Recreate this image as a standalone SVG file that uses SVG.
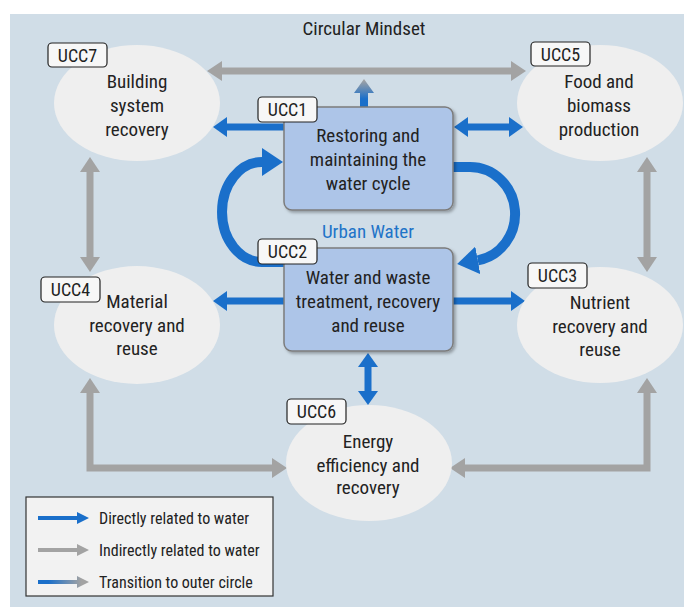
<svg xmlns="http://www.w3.org/2000/svg" width="684" height="607" viewBox="0 0 684 607">
<defs>
<style>
text{font-family:"Liberation Sans Narrow","Roboto Condensed","DejaVu Sans Condensed","Liberation Sans",sans-serif;fill:#222;text-anchor:middle}
.t{font-size:19px}
.lbl{font-size:18px}
.leg{font-size:16px;text-anchor:start}
.ell{fill:#efefef}
.tag{fill:#f7f7f7;stroke:#222;stroke-width:1.2}
.box{fill:#adc5e8;stroke:#7c7c7c;stroke-width:1.5}
.blue{stroke:#1a6fca;stroke-width:7;fill:none}
.gray{stroke:#a3a3a3;stroke-width:7;fill:none}
.loop{stroke:#1a6fca;stroke-width:10;fill:none}
</style>
<marker id="hb" markerUnits="userSpaceOnUse" markerWidth="14" markerHeight="20" refX="0" refY="10" orient="auto-start-reverse" viewBox="0 0 14 20"><path d="M0,0 L14,10 L0,20 z" fill="#1a6fca"/></marker>
<marker id="hg" markerUnits="userSpaceOnUse" markerWidth="15" markerHeight="20" refX="0" refY="10" orient="auto-start-reverse" viewBox="0 0 15 20"><path d="M0,0 L15,10 L0,20 z" fill="#a3a3a3"/></marker>
<marker id="hl" markerUnits="userSpaceOnUse" markerWidth="21" markerHeight="28" refX="0" refY="14" orient="auto" viewBox="0 0 21 28"><path d="M0,0 L21,14 L0,28 z" fill="#1a6fca"/></marker>
<linearGradient id="gup" gradientUnits="userSpaceOnUse" x1="0" y1="107" x2="0" y2="80"><stop offset="0.3" stop-color="#1a6fca"/><stop offset="1" stop-color="#a3a3a3"/></linearGradient>
<linearGradient id="gleg" gradientUnits="userSpaceOnUse" x1="38" y1="0" x2="89" y2="0"><stop offset="0.2" stop-color="#1a6fca"/><stop offset="0.85" stop-color="#a3a3a3"/></linearGradient>
<filter id="sh" x="-10%" y="-10%" width="125%" height="125%"><feDropShadow dx="2" dy="2" stdDeviation="1.5" flood-color="#000" flood-opacity="0.3"/></filter>
</defs>
<rect x="0" y="0" width="684" height="607" fill="#ffffff"/>
<rect x="10" y="14" width="674" height="593" fill="#d0dde7"/>
<text class="t" x="364" y="35">Circular Mindset</text>

<g id="connectors">
<line class="gray" x1="222" y1="71" x2="511" y2="71" marker-start="url(#hg)" marker-end="url(#hg)"/>
<line class="gray" x1="90" y1="172" x2="90" y2="257" marker-start="url(#hg)" marker-end="url(#hg)"/>
<line class="gray" x1="647" y1="172" x2="647" y2="257" marker-start="url(#hg)" marker-end="url(#hg)"/>
<path class="gray" d="M90,393 V468 H272" marker-start="url(#hg)" marker-end="url(#hg)"/>
<path class="gray" d="M647,393 V468 H465" marker-start="url(#hg)" marker-end="url(#hg)"/>
<polygon points="360,107 368,107 368,93 374,93 364,79 354,93 360,93" fill="url(#gup)"/>
<line class="blue" x1="284" y1="127" x2="227" y2="127" marker-end="url(#hb)"/>
<line class="blue" x1="468" y1="127" x2="509" y2="127" marker-start="url(#hb)" marker-end="url(#hb)"/>
<line class="blue" x1="284" y1="301" x2="227" y2="301" marker-end="url(#hb)"/>
<line class="blue" x1="453" y1="301" x2="511" y2="301" marker-end="url(#hb)"/>
<line class="blue" x1="368" y1="367" x2="368" y2="391" marker-start="url(#hb)" marker-end="url(#hb)"/>
<path class="loop" d="M290,262 L262,262 A40,50 0 0 1 262,162" marker-end="url(#hl)"/>
<path class="loop" d="M450,167 L470,167 A45,47 0 0 1 477.8,260.3" marker-end="url(#hl)"/>
</g>

<g id="ucc7">
<ellipse class="ell" cx="137" cy="103" rx="83" ry="58"/>
<text class="t" x="137" y="88">Building</text>
<text class="t" x="137" y="112">system</text>
<text class="t" x="137" y="136">recovery</text>
<rect class="tag" x="48" y="43" width="59" height="24" rx="4"/>
<text class="lbl" x="77.5" y="61.5">UCC7</text>
</g>
<g id="ucc5">
<ellipse class="ell" cx="600" cy="103" rx="83" ry="58"/>
<text class="t" x="599" y="88">Food and</text>
<text class="t" x="599" y="112">biomass</text>
<text class="t" x="599" y="136">production</text>
<rect class="tag" x="531" y="42" width="59" height="24" rx="4"/>
<text class="lbl" x="560.5" y="60.5">UCC5</text>
</g>
<g id="ucc4">
<ellipse class="ell" cx="137" cy="325" rx="83" ry="59"/>
<text class="t" x="137" y="308">Material</text>
<text class="t" x="137" y="332">recovery and</text>
<text class="t" x="137" y="355">reuse</text>
<rect class="tag" x="41" y="277" width="59" height="25" rx="4"/>
<text class="lbl" x="70.5" y="296">UCC4</text>
</g>
<g id="ucc3">
<ellipse class="ell" cx="600" cy="325" rx="83" ry="58"/>
<text class="t" x="600" y="309">Nutrient</text>
<text class="t" x="600" y="333">recovery and</text>
<text class="t" x="600" y="356">reuse</text>
<rect class="tag" x="528" y="263" width="59" height="25" rx="4"/>
<text class="lbl" x="557.5" y="282">UCC3</text>
</g>
<g id="ucc6">
<ellipse class="ell" cx="369" cy="463" rx="83" ry="58"/>
<text class="t" x="368" y="448">Energy</text>
<text class="t" x="368" y="472">efficiency and</text>
<text class="t" x="368" y="494">recovery</text>
<rect class="tag" x="287" y="399" width="59" height="25" rx="4"/>
<text class="lbl" x="316.5" y="418">UCC6</text>
</g>
<g id="ucc1">
<rect class="box" x="284" y="107" width="169" height="103" rx="8" filter="url(#sh)"/>
<text class="t" x="368" y="142">Restoring and</text>
<text class="t" x="368" y="166">maintaining the</text>
<text class="t" x="368" y="190">water cycle</text>
<rect class="tag" x="258" y="97" width="59" height="25" rx="4"/>
<text class="lbl" x="287.5" y="116">UCC1</text>
</g>
<g id="ucc2">
<rect class="box" x="284" y="248" width="169" height="103" rx="8" filter="url(#sh)"/>
<text class="t" x="368" y="284">Water and waste</text>
<text class="t" x="368" y="308">treatment, recovery</text>
<text class="t" x="368" y="332">and reuse</text>
<rect class="tag" x="258" y="239" width="59" height="25" rx="4"/>
<text class="lbl" x="287.5" y="258">UCC2</text>
</g>
<text class="t" x="368" y="238" style="fill:#1f74c8">Urban Water</text>

<g id="legend">
<rect x="26" y="497" width="247" height="99" fill="#f2f2f2" stroke="#333" stroke-width="1.2"/>
<polygon points="38,516 77,516 77,512 89,518 77,524 77,520 38,520" fill="#1a6fca"/>
<polygon points="38,548 77,548 77,544 89,550 77,556 77,552 38,552" fill="#a3a3a3"/>
<polygon points="38,580 77,580 77,576 89,582 77,588 77,584 38,584" fill="url(#gleg)"/>
<text class="leg" x="99" y="524">Directly related to water</text>
<text class="leg" x="99" y="556">Indirectly related to water</text>
<text class="leg" x="99" y="588">Transition to outer circle</text>
</g>
</svg>
